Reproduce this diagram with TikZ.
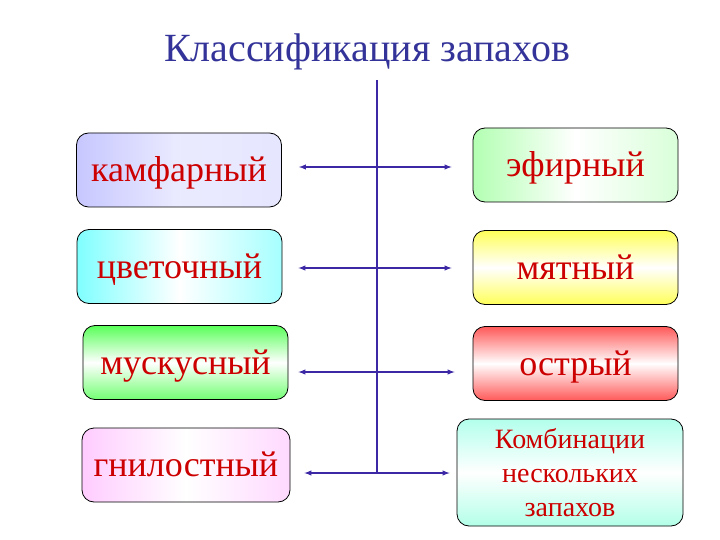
\documentclass[tikz,border=0pt]{standalone}
\usepackage{fontspec}
\setmainfont{Liberation Serif}
\usepackage{xcolor}
\usepackage{tikz}
\definecolor{titleblue}{RGB}{51,51,153}
\definecolor{lineblue}{RGB}{60,40,165}
\definecolor{wordred}{RGB}{204,0,0}

\tikzset{
  kind/.style={draw=black, thick, rounded corners=12pt, minimum width=205pt,
    minimum height=74pt, text=wordred, font=\fontsize{36}{40}\selectfont,
    text height=27pt, text depth=4pt},
  link/.style={lineblue, line width=1.4pt, <->, >=latex}
}

\begin{document}
\begin{tikzpicture}[x=1pt,y=-1pt]
\useasboundingbox (0,0) rectangle (720,540);
\node[text=titleblue, font=\fontsize{40}{44}\selectfont] (title) at (367,52) {Классификация запахов};
\node[kind, left color=blue!22, right color=blue!10, middle color=white!92!blue] (kamf) at (179,170) {камфарный};
\node[kind, left color=green!30, right color=green!15, middle color=white] (efir) at (575.5,165) {эфирный};
\node[kind, left color=cyan!50, right color=cyan!35, middle color=white] (cvet) at (179.5,266.5) {цветочный};
\node[kind, shading angle=60, top color=yellow!65, bottom color=yellow!65, middle color=white] (myat) at (575.5,267.5) {мятный};
\node[kind, shading angle=70, top color=green!65, bottom color=green!55, middle color=white] (musk) at (185.5,362.5) {мускусный};
\node[kind, shading angle=60, top color=red!65, bottom color=red!65, middle color=white] (ostr) at (575.5,363.5) {острый};
\node[kind, minimum width=208pt, left color=magenta!20, right color=magenta!15, middle color=white] (gnil) at (186,465) {гнилостный};
\node[kind, minimum width=226pt, minimum height=107pt, align=center,
  font=\fontsize{28}{34}\selectfont, text height=, text depth=, shading angle=60,
  top color=green!25!cyan!30, bottom color=green!30!cyan!30, middle color=white] (komb) at (570,472.5)
  {Комбинации\\нескольких\\запахов};
% trunk
\coordinate (top) at (377,80);
\coordinate (r1) at (377,167);
\coordinate (r2) at (377,268);
\coordinate (r3) at (377,372);
\coordinate (r4) at (377,473);
\draw[lineblue, line width=1.4pt] (top) -- (r4);
% arrows
\draw[link, shorten <=17pt, shorten >=21pt] (kamf.east |- r1) -- (efir.west |- r1);
\draw[link, shorten <=16pt, shorten >=21pt] (cvet.east |- r2) -- (myat.west |- r2);
\draw[link, shorten <=10pt, shorten >=18pt] (musk.east |- r3) -- (ostr.west |- r3);
\draw[link, shorten <=14pt, shorten >=7pt] (gnil.east |- r4) -- (komb.west |- r4);
\end{tikzpicture}
\end{document}
